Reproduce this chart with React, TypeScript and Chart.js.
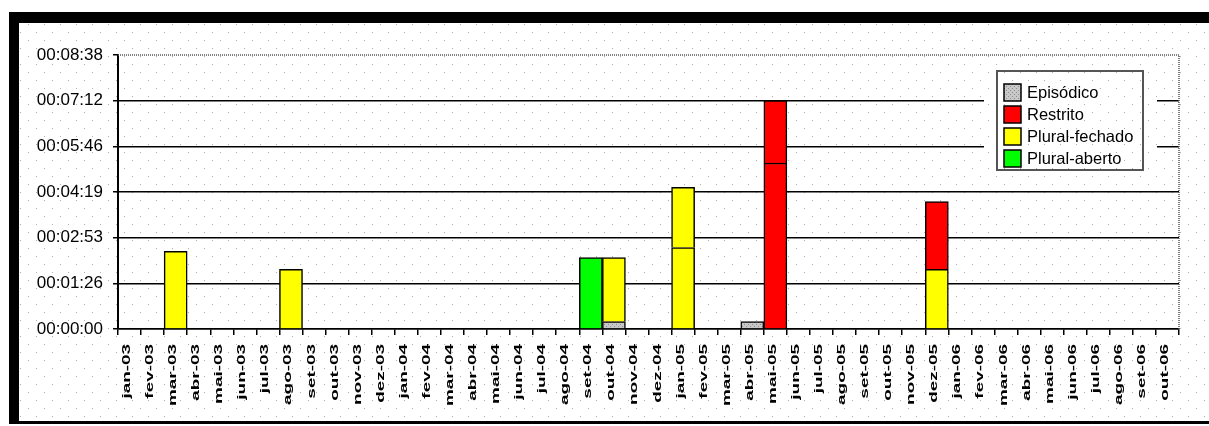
import React, { useEffect, useRef } from 'react';
import { Chart, registerables } from 'chart.js';

Chart.register(...registerables);

// Months shown on the category axis
const categories = [
  'jan-03', 'fev-03', 'mar-03', 'abr-03', 'mai-03', 'jun-03', 'jul-03', 'ago-03', 'set-03', 'out-03', 'nov-03', 'dez-03',
  'jan-04', 'fev-04', 'mar-04', 'abr-04', 'mai-04', 'jun-04', 'jul-04', 'ago-04', 'set-04', 'out-04', 'nov-04', 'dez-04',
  'jan-05', 'fev-05', 'mar-05', 'abr-05', 'mai-05', 'jun-05', 'jul-05', 'ago-05', 'set-05', 'out-05', 'nov-05', 'dez-05',
  'jan-06', 'fev-06', 'mar-06', 'abr-06', 'mai-06', 'jun-06', 'jul-06', 'ago-06', 'set-06', 'out-06',
];

// Durations in seconds, per month
const episodico: Record<string, number> = { 'out-04': 14, 'abr-05': 14 };
const pluralAberto: Record<string, number> = { 'set-04': 135 };
const pluralFechado: Record<string, number> = { 'mar-03': 147, 'ago-03': 113, 'out-04': 121, 'jan-05': 154, 'dez-05': 113 };
const pluralFechadoExtra: Record<string, number> = { 'jan-05': 114 };
const restrito: Record<string, number> = { 'mai-05': 314, 'dez-05': 128 };
const restritoExtra: Record<string, number> = { 'mai-05': 118 };

// Value axis ticks (seconds): steps of 0.001 day
const yTicks = [0, 86.4, 172.8, 259.2, 345.6, 432, 518.4];

const FONT = '"Liberation Sans", Arial, sans-serif';

const pad2 = (n: number) => String(n).padStart(2, '0');
const formatTime = (sec: number) => {
  const s = Math.round(sec);
  return `${pad2(Math.floor(s / 3600))}:${pad2(Math.floor((s % 3600) / 60))}:${pad2(s % 60)}`;
};

const toSeries = (m: Record<string, number>) => categories.map((c) => (c in m ? m[c] : null));

function makeGrayPattern(): CanvasPattern | string {
  const c = document.createElement('canvas');
  c.width = 4;
  c.height = 4;
  const g = c.getContext('2d');
  if (!g) return '#c0c0c0';
  g.fillStyle = '#c8c8c8';
  g.fillRect(0, 0, 4, 4);
  g.fillStyle = '#8c8c8c';
  g.fillRect(0, 0, 1, 1);
  g.fillRect(2, 2, 1, 1);
  const p = g.createPattern(c, 'repeat');
  return p || '#c0c0c0';
}

function drawDots(ctx: CanvasRenderingContext2D, x0: number, y0: number, x1: number, y1: number) {
  ctx.fillStyle = '#b0b0b0';
  for (let y = 0; y < 430; y += 8) {
    if (y < y0 || y > y1) continue;
    const off = (Math.floor(y / 8) % 2) * 8;
    for (let x = off + 4; x < 1215; x += 16) {
      if (x < x0 || x > x1) continue;
      ctx.fillRect(x, y, 1, 1);
    }
  }
}

export default function App() {
  const ref = useRef<HTMLCanvasElement>(null);

  useEffect(() => {
    const canvas = ref.current;
    if (!canvas) return;
    const gray = makeGrayPattern();

    const barBase = {
      borderColor: '#000',
      borderWidth: 1.5,
      barPercentage: 1,
      categoryPercentage: 1,
      stack: 's',
    };

    const datasets = [
      { label: 'Episódico', data: toSeries(episodico), backgroundColor: gray, ...barBase },
      { label: 'Plural-aberto', data: toSeries(pluralAberto), backgroundColor: '#00ff00', ...barBase },
      { label: 'Plural-fechado', data: toSeries(pluralFechado), backgroundColor: '#ffff00', ...barBase },
      { label: 'Plural-fechado ', data: toSeries(pluralFechadoExtra), backgroundColor: '#ffff00', ...barBase },
      { label: 'Restrito', data: toSeries(restrito), backgroundColor: '#ff0000', ...barBase },
      { label: 'Restrito ', data: toSeries(restritoExtra), backgroundColor: '#ff0000', ...barBase },
    ];

    const legendOrder = ['Episódico', 'Restrito', 'Plural-fechado', 'Plural-aberto'];

    const background = {
      id: 'frameBackground',
      beforeDraw(chart: any) {
        const ctx: CanvasRenderingContext2D = chart.ctx;
        ctx.save();
        ctx.fillStyle = '#fff';
        ctx.fillRect(0, 0, chart.width, chart.height);
        drawDots(ctx, 20, 24, 1209, 420);
        ctx.fillStyle = '#000';
        ctx.fillRect(9, 12, 1200, 11);
        ctx.fillRect(9, 12, 10, 412);
        ctx.fillRect(9, 421, 1200, 3);
        ctx.restore();
      },
    };

    const overlay = {
      id: 'overlay',
      afterDraw(chart: any) {
        const ctx: CanvasRenderingContext2D = chart.ctx;
        const area = chart.chartArea;
        const xs = chart.scales.x;

        // rotated month labels
        ctx.save();
        ctx.font = `bold 10.5px ${FONT}`;
        ctx.fillStyle = '#000';
        categories.forEach((lab, i) => {
          const x = xs.getPixelForValue(i);
          ctx.save();
          ctx.translate(x + 0.5, 344);
          ctx.rotate(-Math.PI / 2);
          ctx.scale(1.8, 1);
          ctx.textAlign = 'right';
          ctx.textBaseline = 'alphabetic';
          ctx.fillText(lab, 0, 0);
          ctx.restore();
        });
        ctx.restore();

        // legend
        ctx.save();
        ctx.fillStyle = '#fff';
        ctx.fillRect(984, 61, 173, 122);
        drawDots(ctx, 984, 61, 1157, 183);
        ctx.strokeStyle = '#555';
        ctx.lineWidth = 2;
        ctx.strokeRect(997, 71, 146, 99);
        ctx.font = `16.5px ${FONT}`;
        ctx.textBaseline = 'middle';
        ctx.textAlign = 'left';
        legendOrder.forEach((name, i) => {
          const ds = datasets.find((d) => d.label === name)!;
          const top = 84 + i * 22;
          ctx.fillStyle = ds.backgroundColor as any;
          ctx.fillRect(1004, top, 17, 17);
          ctx.strokeStyle = '#000';
          ctx.lineWidth = 1.5;
          ctx.strokeRect(1004, top, 17, 17);
          ctx.fillStyle = '#000';
          ctx.fillText(name, 1027, top + 9);
        });
        ctx.restore();

        // plot area border (top and right, dotted)
        ctx.save();
        ctx.strokeStyle = '#555';
        ctx.lineWidth = 1.5;
        ctx.setLineDash([1, 1]);
        ctx.beginPath();
        ctx.moveTo(area.left, area.top);
        ctx.lineTo(area.right, area.top);
        ctx.lineTo(area.right, area.bottom);
        ctx.stroke();
        ctx.restore();
      },
    };

    const chart = new Chart(canvas, {
      type: 'bar',
      data: { labels: categories, datasets: datasets as any },
      options: {
        responsive: false,
        animation: false,
        devicePixelRatio: 1,
        layout: { padding: { left: 0, top: 55, right: 30, bottom: 0 } },
        plugins: { legend: { display: false }, tooltip: { enabled: false } },
        scales: {
          x: {
            stacked: true,
            offset: true,
            afterFit: (s: any) => {
              s.height = 97;
            },
            ticks: { display: false },
            grid: {
              offset: true,
              drawOnChartArea: false,
              drawTicks: true,
              tickLength: 6,
              color: '#000',
              lineWidth: 1.5,
            },
            border: { display: true, color: '#000', width: 1.5 },
          },
          y: {
            stacked: true,
            min: 0,
            max: 518.4,
            afterFit: (s: any) => {
              s.width = 118;
            },
            afterBuildTicks: (s: any) => {
              s.ticks = yTicks.map((v) => ({ value: v }));
            },
            ticks: {
              callback: (v: any) => formatTime(Number(v)),
              font: { family: FONT, size: 17 },
              color: '#000',
              padding: 10,
            },
            grid: {
              color: (c: any) => (c.tick && c.tick.value >= 518 ? 'rgba(0,0,0,0)' : '#000'),
              tickColor: '#000',
              tickLength: 5,
              lineWidth: 1.5,
            },
            border: { display: true, color: '#000', width: 2 },
          },
        },
      },
      plugins: [background, overlay],
    });

    return () => chart.destroy();
  }, []);

  return (
    <div style={{ position: 'absolute', left: 0, top: 0, width: 1209, height: 426 }}>
      <canvas ref={ref} width={1209} height={426} style={{ display: 'block', width: 1209, height: 426 }} />
    </div>
  );
}
